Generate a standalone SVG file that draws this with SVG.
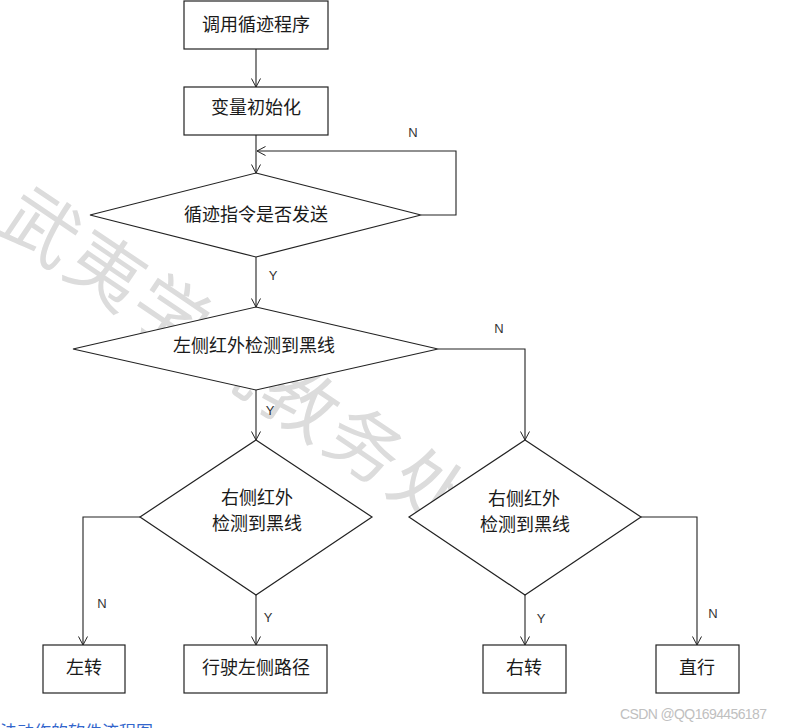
<svg xmlns="http://www.w3.org/2000/svg" width="788" height="728" viewBox="0 0 788 728">
<defs>
<marker id="arr" markerUnits="userSpaceOnUse" viewBox="0 0 10 10" markerWidth="10" markerHeight="10" refX="9.5" refY="5" orient="auto">
<path d="M1,0.5 L9.5,5 L1,9.5" fill="none" stroke="#222" stroke-width="1"/>
</marker>
<style>
.nd{fill:#fff;stroke:#222;stroke-width:1.2}
.t{font-family:"Noto Sans CJK SC","Noto Sans",sans-serif;font-size:18px;fill:#1a1a1a;text-anchor:middle}
.lb{font-family:"Liberation Sans",Arial,sans-serif;font-size:13px;fill:#333;text-anchor:middle}
.c{fill:none;stroke:#222;stroke-width:1.1}
.ca{fill:none;stroke:#222;stroke-width:1.1;marker-end:url(#arr)}
</style>
</defs>
<rect width="788" height="728" fill="#fff"/>
<g id="watermark">
<text transform="translate(42,226) rotate(34)" x="-37" y="28" font-family="'Noto Sans CJK SC',sans-serif" font-size="74" font-weight="400" letter-spacing="4" fill="#dcdcdc">武夷学院教务处</text>
</g>
<g id="connectors">
<path class="ca" d="M256,49 L256,87"/>
<path class="ca" d="M256,135 L256,173"/>
<path class="ca" d="M421,215 L456,215 L456,151 L257,151"/>
<path class="ca" d="M256,257 L256,307"/>
<path class="ca" d="M256,390 L256,440"/>
<path class="ca" d="M438,349 L525,349 L525,440"/>
<path class="ca" d="M140,517 L83,517 L83,645"/>
<path class="ca" d="M256,595 L256,645"/>
<path class="ca" d="M525,595 L525,645"/>
<path class="ca" d="M641,517 L697,517 L697,645"/>
<text class="lb" x="413" y="137">N</text>
<text class="lb" x="273" y="280">Y</text>
<text class="lb" x="499" y="333">N</text>
<text class="lb" x="270" y="415">Y</text>
<text class="lb" x="102" y="608">N</text>
<text class="lb" x="268" y="622">Y</text>
<text class="lb" x="541" y="623">Y</text>
<text class="lb" x="713" y="618">N</text>
</g>
<g id="n1"><rect class="nd" x="184" y="1" width="144" height="48"/><text class="t" x="256" y="31">调用循迹程序</text></g>
<g id="n2"><rect class="nd" x="184" y="87" width="144" height="48"/><text class="t" x="256" y="114">变量初始化</text></g>
<g id="d1"><polygon class="nd" points="256,173 421,215 256,257 90,215"/><text class="t" x="256" y="221">循迹指令是否发送</text></g>
<g id="d2"><polygon class="nd" points="256,307 438,349 256,390 73,349"/><text class="t" x="254" y="352">左侧红外检测到黑线</text></g>
<g id="d3"><polygon class="nd" points="256,440 372,517 256,595 140,517"/><text class="t" x="257" y="504">右侧红外</text><text class="t" x="257" y="530">检测到黑线</text></g>
<g id="d4"><polygon class="nd" points="525,440 641,517 525,595 409,517"/><text class="t" x="524" y="505">右侧红外</text><text class="t" x="525" y="531">检测到黑线</text></g>
<g id="b1"><rect class="nd" x="43" y="645" width="82" height="48"/><text class="t" x="84" y="674">左转</text></g>
<g id="b2"><rect class="nd" x="184" y="645" width="143" height="48"/><text class="t" x="256" y="674">行驶左侧路径</text></g>
<g id="b3"><rect class="nd" x="483" y="645" width="83" height="48"/><text class="t" x="524" y="674">右转</text></g>
<g id="b4"><rect class="nd" x="656" y="645" width="83" height="48"/><text class="t" x="697" y="674">直行</text></g>
<text x="0" y="738" font-family="'Noto Sans CJK SC',sans-serif" font-size="17" fill="#3366cc">法动作的软件流程图</text>
<text x="620" y="719" font-family="'Liberation Sans',Arial,sans-serif" font-size="14" fill="#c0c0c0" textLength="147">CSDN @QQ1694456187</text>
</svg>
